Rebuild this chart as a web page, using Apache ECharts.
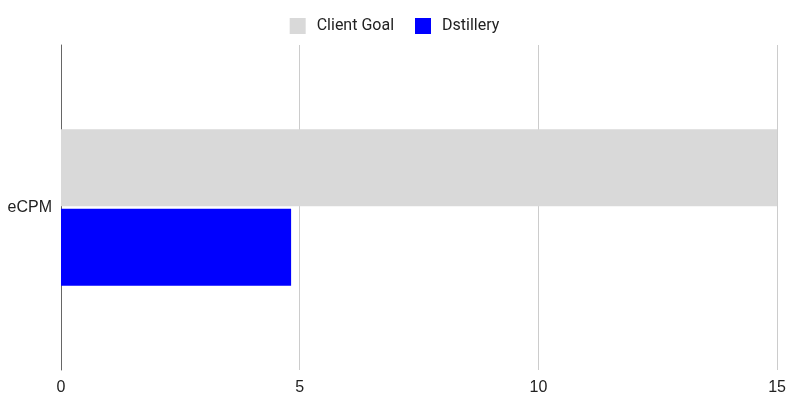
<!DOCTYPE html>
<html>
<head>
<meta charset="utf-8">
<script src="https://cdn.jsdelivr.net/npm/echarts@6/dist/echarts.min.js"></script>
<style>
  html, body { margin: 0; padding: 0; background: #fff; }
  #chart { width: 789px; height: 396px; }
</style>
</head>
<body>
<div id="chart"></div>
<script>
const categories = ["eCPM"];
const seriesNames = ["Client Goal", "Dstillery"];
const clientGoal = [15];
const dstillery = [4.82];
const colorList = ["#d9d9d9", "#0000ff"];

const myChart = echarts.init(document.getElementById("chart"));
const option = {
  animation: false,
  color: colorList,
  legend: {
    data: seriesNames,
    top: 13,
    left: "center",
    itemWidth: 16,
    itemHeight: 16,
    itemGap: 21,
    icon: "rect",
    textStyle: { fontFamily: "Roboto", fontSize: 16, color: "#222", padding: [0, 0, 0, 6] }
  },
  grid: { left: 61, right: 7, top: 45, bottom: 22 },
  xAxis: {
    type: "value",
    min: 0,
    max: 15,
    interval: 5,
    axisLine: { show: false },
    axisTick: { show: false },
    axisLabel: { margin: 10, fontFamily: "Liberation Sans, Arial", fontSize: 16, color: "#222" },
    splitLine: {
      // 网格线
      lineStyle: { color: "#cccccc", width: 1, type: "solid" }
    }
  },
  yAxis: {
    type: "category",
    inverse: true,
    data: categories,
    axisLine: { show: true, lineStyle: { color: "#666", width: 1 } },
    axisTick: { show: false },
    axisLabel: { margin: 9, fontFamily: "Liberation Sans, Arial", fontSize: 16, color: "#222" }
  },
  series: [
    { name: seriesNames[0], type: "bar", data: clientGoal, barWidth: 77, barGap: "3%" },
    { name: seriesNames[1], type: "bar", data: dstillery, barWidth: 77, barGap: "3%" }
  ]
};
myChart.setOption(option);
</script>
</body>
</html>
